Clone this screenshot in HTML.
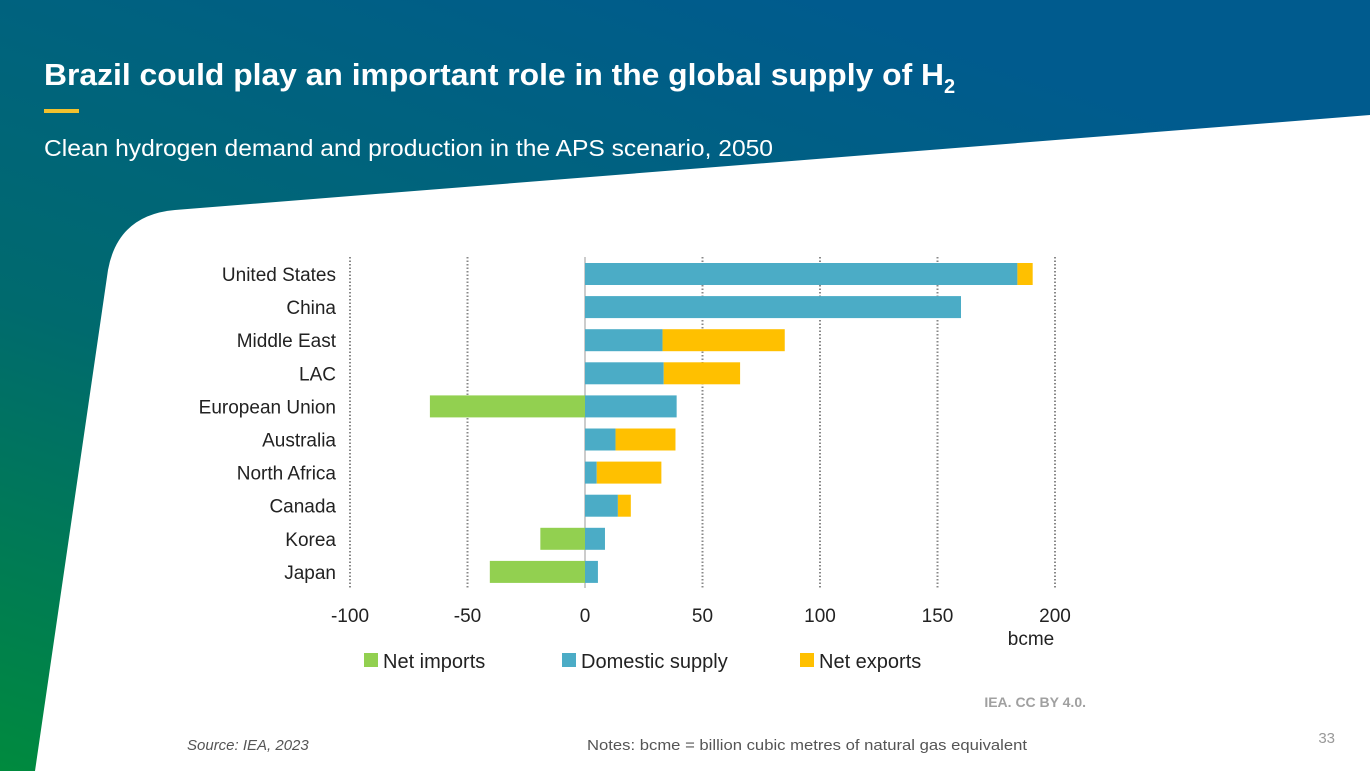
<!DOCTYPE html>
<html><head><meta charset="utf-8">
<style>
body{margin:0;width:1370px;height:771px;overflow:hidden;font-family:"Liberation Sans",sans-serif;}
svg text{font-family:"Liberation Sans",sans-serif;}
</style></head>
<body>
<svg width="1370" height="771" viewBox="0 0 1370 771">
<defs>
<linearGradient id="bg" x1="0" y1="1" x2="0.6" y2="0" gradientUnits="objectBoundingBox">
<stop offset="0" stop-color="#008a3e"/>
<stop offset="0.45" stop-color="#006a6e"/>
<stop offset="1" stop-color="#005b8e"/>
</linearGradient>
</defs>
<rect width="1370" height="771" fill="url(#bg)"/>
<path d="M175,210 L1370,115 L1370,771 L35,771 L108,270 Q118,215 175,210 Z" fill="#fff"/>
<text x="44" y="85" fill="#fff" font-size="31" font-weight="bold"><tspan textLength="900" lengthAdjust="spacingAndGlyphs">Brazil could play an important role in the global supply of H</tspan><tspan font-size="20" dy="8">2</tspan></text>
<rect x="44" y="109" width="35" height="4" fill="#f2c12e"/>
<text x="44" y="156" fill="#fff" font-size="23" textLength="729" lengthAdjust="spacingAndGlyphs">Clean hydrogen demand and production in the APS scenario, 2050</text>
<g id="chart"></g>
<text x="1086" y="707" fill="#a0a0a0" font-size="14" font-weight="bold" text-anchor="end">IEA. CC BY 4.0.</text>
<text x="187" y="750" fill="#555" font-size="15" font-style="italic">Source: IEA, 2023</text>
<text x="587" y="750" fill="#555" font-size="15" textLength="440" lengthAdjust="spacingAndGlyphs">Notes: bcme = billion cubic metres of natural gas equivalent</text>
<text x="1335" y="743" fill="#999" font-size="15" text-anchor="end">33</text>
</svg>
<script>
const categories=["United States","China","Middle East","LAC","European Union","Australia","North Africa","Canada","Korea","Japan"];
const netImports=[0,0,0,0,-66,0,0,0,-19,-40.5];
const domesticSupply=[184,160,33,33.5,39,13,5,14,8.5,5.5];
const netExports=[6.5,0,52,32.5,0,25.5,27.5,5.5,0,0];
const ticks=[-100,-50,0,50,100,150,200];
const NS="http://www.w3.org/2000/svg";
const g=document.getElementById('chart');
const x=v=>585+v*2.35;
const y=i=>274+i*33.1;
function el(t,a,p){const e=document.createElementNS(NS,t);for(const k in a)e.setAttribute(k,a[k]);(p||g).appendChild(e);return e;}
ticks.forEach(t=>{
 const l=el('line',{x1:x(t),x2:x(t),y1:257,y2:588,stroke:t===0?'#bbb':'#888','stroke-width':t===0?1.5:2,'stroke-dasharray':t===0?'none':'1.5 2'});
 
 
 const tx=el('text',{x:x(t),y:622,'font-size':19,'text-anchor':'middle',fill:'#222'});tx.textContent=t;
 
 
});
const u=el('text',{x:1031,y:645,'font-size':19,'text-anchor':'middle',fill:'#222'});u.textContent='bcme';


categories.forEach((c,i)=>{
 const cy=y(i);
 const lb=el('text',{x:336,y:cy+7,'font-size':19,'text-anchor':'end',fill:'#222'});lb.textContent=c;
 
 
 const h=22;
 if(netImports[i]<0){const r=el('rect',{x:x(netImports[i]),y:cy-h/2,width:x(0)-x(netImports[i]),height:h,fill:'#92d050'});
  
  }
 const d=el('rect',{x:x(0),y:cy-h/2,width:x(domesticSupply[i])-x(0),height:h,fill:'#4bacc6'});
 
 
 if(netExports[i]>0){const r=el('rect',{x:x(domesticSupply[i]),y:cy-h/2,width:x(domesticSupply[i]+netExports[i])-x(domesticSupply[i]),height:h,fill:'#ffc000'});
  
  }
});
[["Net imports","#92d050",364],["Domestic supply","#4bacc6",562],["Net exports","#ffc000",800]].forEach(([n,c,lx])=>{
 const s=el('rect',{x:lx,y:653,width:14,height:14,fill:c});
 
 
 const t=el('text',{x:lx+19,y:668,'font-size':20,fill:'#222'});t.textContent=n;
 
 
});
</script>
</body></html>
